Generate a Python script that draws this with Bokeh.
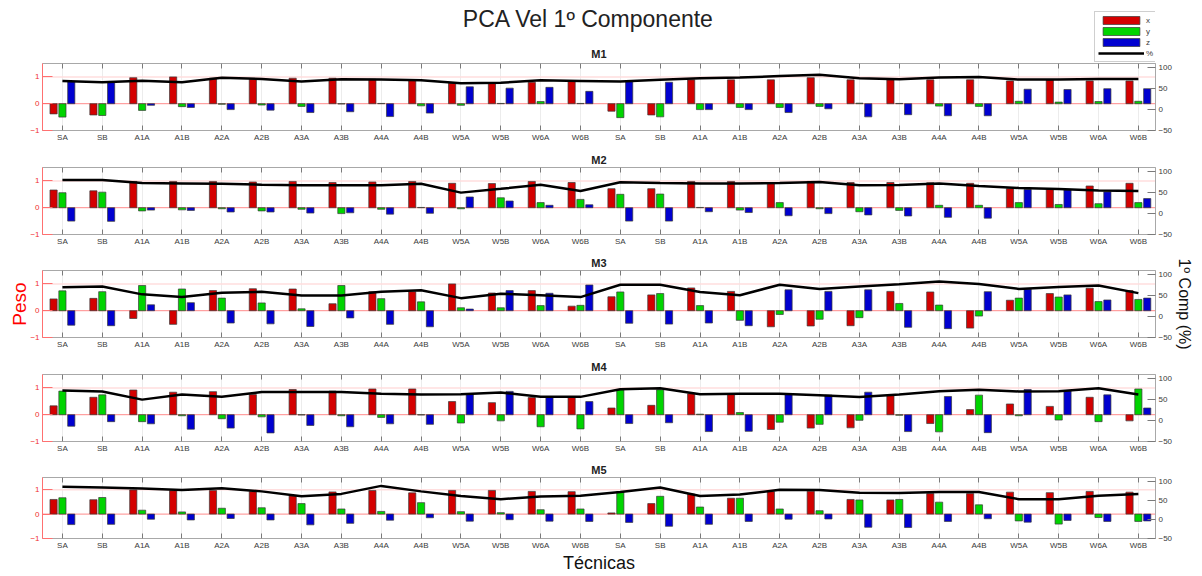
from bokeh.plotting import figure
from bokeh.models import (Range1d, LinearAxis, FixedTicker, Span, Label, Legend,
                          LegendItem, ColumnDataSource)
from bokeh.layouts import column
from bokeh.transform import dodge
from bokeh.embed import file_html
from bokeh.resources import INLINE

# ---------------- data ----------------
grupo = ["SA", "SB", "A1A", "A1B", "A2A", "A2B", "A3A", "A3B", "A4A", "A4B",
         "W5A", "W5B", "W6A", "W6B"]
tecnicas = grupo + grupo
paneles = ["M1", "M2", "M3", "M4", "M5"]
series = ["x", "y", "z", "%"]

m1_x = [-0.38, -0.42, 0.97, 1.0, 0.95, 0.91, 0.95, 0.95, 0.91, 0.89, 0.76, 0.76, 0.8, 0.85,
        -0.28, -0.42, 0.89, 0.89, 0.89, 0.97, 0.89, 0.89, 0.89, 0.89, 0.85, 0.88, 0.85, 0.85]
m1_y = [-0.5, -0.44, -0.25, -0.11, -0.02, -0.05, -0.1, -0.01, 0.01, -0.08, -0.06, 0.01, 0.08, 0.01,
        -0.52, -0.49, -0.22, -0.14, -0.14, -0.1, 0.02, 0.01, -0.09, -0.1, 0.09, 0.06, 0.08, 0.09]
m1_z = [0.82, 0.82, -0.06, -0.14, -0.22, -0.24, -0.33, -0.3, -0.48, -0.35, 0.63, 0.58, 0.61, 0.46,
        0.82, 0.8, -0.22, -0.22, -0.33, -0.19, -0.49, -0.41, -0.45, -0.45, 0.54, 0.53, 0.56, 0.56]
m1_pct = [68, 65, 69, 65, 76, 73, 67, 72.6, 72, 70, 63, 64, 70, 68.5,
          67, 71, 75, 76.5, 80, 83, 75, 72.6, 76.5, 78, 71.6, 71.6, 73, 73]

m2_x = [0.66, 0.63, 0.98, 0.98, 0.98, 0.96, 0.98, 0.94, 0.96, 0.98, 0.91, 0.9, 0.98, 0.94,
        0.71, 0.71, 0.98, 0.98, 0.93, 0.98, 0.94, 0.94, 0.93, 0.91, 0.71, 0.69, 0.81, 0.91]
m2_y = [0.56, 0.58, -0.12, -0.08, -0.04, -0.12, -0.06, -0.22, -0.06, 0.01, -0.04, 0.37, 0.19, 0.31,
        0.5, 0.51, 0.01, -0.09, 0.19, -0.04, -0.15, -0.1, 0.09, 0.09, 0.19, 0.12, 0.15, 0.19]
m2_z = [-0.5, -0.51, -0.09, -0.1, -0.16, -0.16, -0.2, -0.19, -0.24, -0.21, 0.4, 0.25, 0.09, 0.11,
        -0.5, -0.5, -0.15, -0.18, -0.3, -0.22, -0.27, -0.31, -0.36, -0.39, 0.68, 0.66, 0.59, 0.34]
m2_pct = [80, 80, 73, 72, 71, 69, 67.5, 67.5, 67.5, 71, 50, 59, 69, 54,
          75, 73, 71.5, 71.5, 73, 75.6, 67.5, 68, 71.5, 66, 61, 58.5, 55, 53.6]

m3_x = [0.44, 0.46, -0.29, -0.51, 0.75, 0.82, 0.81, 0.26, 0.71, 0.71, 1.0, 0.66, 0.75, 0.17,
        0.52, 0.59, 0.85, 0.72, -0.6, -0.57, -0.56, 0.72, 0.7, -0.65, 0.39, 0.64, 0.84, 0.75]
m3_y = [0.74, 0.71, 0.94, 0.81, 0.47, 0.29, 0.07, 0.94, 0.45, 0.33, 0.11, 0.11, 0.19, 0.2,
        0.7, 0.64, 0.19, -0.36, -0.14, -0.32, -0.26, 0.27, 0.21, -0.2, 0.47, 0.51, 0.34, 0.42]
m3_z = [-0.54, -0.56, 0.22, 0.3, -0.46, -0.49, -0.59, -0.27, -0.51, -0.6, 0.06, 0.75, 0.65, 0.96,
        -0.47, -0.5, -0.46, -0.56, 0.78, 0.72, 0.78, -0.62, -0.67, 0.71, 0.8, 0.59, 0.4, 0.47]
m3_pct = [70, 72, 53, 46.5, 57, 59, 50.5, 50.5, 59, 63, 44, 54.5, 51, 46.5,
          76, 76, 58.5, 51, 76, 66, 72, 77, 84, 78, 66, 70.5, 74, 56]

m4_x = [0.33, 0.65, 0.92, 0.84, 0.86, 0.75, 0.94, 0.88, 0.96, 0.96, 0.49, 0.45, 0.64, 0.65,
        0.25, 0.35, 0.78, 0.77, -0.55, -0.5, -0.49, 0.72, -0.33, 0.19, 0.4, 0.31, 0.65, -0.23]
m4_y = [0.88, 0.74, -0.26, -0.04, -0.15, -0.08, -0.01, -0.04, -0.1, -0.01, -0.31, -0.23, -0.45, -0.53,
        0.93, 0.93, 0.02, 0.08, -0.28, -0.36, -0.21, -0.02, -0.64, 0.73, -0.04, -0.2, -0.26, 0.96]
m4_z = [-0.43, -0.26, -0.34, -0.54, -0.5, -0.68, -0.4, -0.45, -0.34, -0.36, 0.77, 0.87, 0.65, 0.49,
        -0.33, -0.3, -0.63, -0.62, 0.78, 0.73, 0.84, -0.63, 0.68, -0.67, 0.94, 0.89, 0.74, 0.25]
m4_pct = [72, 69.5, 50, 62, 56.6, 68, 68, 68, 64, 62, 63, 67, 56.6, 56.6,
          75, 77, 63, 64, 64, 60.6, 56, 62, 70, 73.6, 69.5, 70, 77, 62]

m5_x = [0.6, 0.59, 0.99, 0.96, 0.97, 0.92, 0.74, 0.91, 0.97, 0.87, 0.97, 0.97, 0.93, 0.92,
        0.05, 0.43, 0.82, 0.65, 0.92, 0.94, 0.6, 0.58, 0.84, 0.84, 0.9, 0.88, 0.93, 0.9]
m5_y = [0.67, 0.68, 0.16, 0.09, 0.24, 0.26, 0.43, 0.21, 0.11, 0.47, 0.1, 0.06, 0.18, 0.21,
        0.92, 0.73, 0.29, 0.65, 0.21, 0.14, 0.58, 0.6, 0.49, 0.38, -0.28, -0.41, -0.14, -0.3]
m5_z = [-0.43, -0.42, -0.21, -0.24, -0.18, -0.24, -0.44, -0.38, -0.25, -0.15, -0.29, -0.23, -0.29, -0.3,
        -0.34, -0.5, -0.42, -0.3, -0.21, -0.2, -0.54, -0.55, -0.3, -0.19, -0.33, -0.26, -0.3, -0.28]
m5_pct = [85.6, 84, 81, 77, 82, 73.6, 61, 67, 88, 73.6, 61.6, 53, 60, 62.4,
          72, 84, 61.6, 65.6, 77.6, 77, 70, 69.6, 72, 72, 53, 53, 62.4, 66.4]

datos = {
    "M1": (m1_x, m1_y, m1_z, m1_pct),
    "M2": (m2_x, m2_y, m2_z, m2_pct),
    "M3": (m3_x, m3_y, m3_z, m3_pct),
    "M4": (m4_x, m4_y, m4_z, m4_pct),
    "M5": (m5_x, m5_y, m5_z, m5_pct),
}

titulo = "PCA Vel 1º Componente"
eje_izq = "Peso"
eje_der = "1º Comp (%)"
eje_x = "Técnicas"

# ---------------- style ----------------
FONT = "Liberation Sans"
FIG_W = 1200
HEADER_H = 63
FRAME_H = 67
BORDER_L, BORDER_R = 42, 45
TOPS = [0, 17, 17, 17, 17]
BOTTOMS = [20, 19, 20, 19, 31]
C_X, C_Y, C_Z = "#d40000", "#00d400", "#0000d0"
EDGE = "#3a3a3a"
TICK_GRAY = "#7a7a7a"
LABEL_GRAY = "#3a3a3a"
RED_AXIS = "#ff7070"
BAR_W = 0.18
OFFS = [-0.222, 0.0, 0.222]

n = len(tecnicas)
frame_w = FIG_W - BORDER_L - BORDER_R

# ---------------- header: title, legend, M1 label ----------------
hdr = figure(width=FIG_W, height=HEADER_H, output_backend="svg", toolbar_location=None,
             tools="", x_range=Range1d(0, 1), y_range=Range1d(0, 1),
             x_axis_location=None, y_axis_location=None,
             min_border_left=BORDER_L, min_border_right=BORDER_R,
             min_border_top=0, min_border_bottom=0)
hdr.outline_line_color = None
hdr.grid.visible = False
hdr.background_fill_color = "white"
hdr.border_fill_color = "white"
# legend proxies: same series as panel M1, kept hidden (only their legend swatches show)
src_leg = ColumnDataSource(dict(idx=list(range(n)), x=m1_x, y=m1_y, z=m1_z, pct=m1_pct))
lx = hdr.vbar(x="idx", top="x", width=BAR_W, source=src_leg, fill_color=C_X,
              line_color=EDGE, line_width=0.7, visible=False)
ly = hdr.vbar(x="idx", top="y", width=BAR_W, source=src_leg, fill_color=C_Y,
              line_color=EDGE, line_width=0.7, visible=False)
lz = hdr.vbar(x="idx", top="z", width=BAR_W, source=src_leg, fill_color=C_Z,
              line_color=EDGE, line_width=0.7, visible=False)
ll = hdr.line(x="idx", y="pct", source=src_leg, line_color="black", line_width=2.5,
              visible=False)
leg = Legend(items=[LegendItem(label=series[0], renderers=[lx]),
                    LegendItem(label=series[1], renderers=[ly]),
                    LegendItem(label=series[2], renderers=[lz]),
                    LegendItem(label=series[3], renderers=[ll])],
             location=(frame_w - 61, 1), orientation="vertical", click_policy="none",
             padding=3, spacing=1, margin=0, glyph_width=46, glyph_height=10,
             label_height=10, label_standoff=2, label_text_font=FONT,
             label_text_font_size="8px", label_text_color=LABEL_GRAY,
             border_line_color="#a0a0a0", background_fill_color="white",
             background_fill_alpha=1.0, inactive_fill_alpha=0.0)
hdr.add_layout(leg, "center")
hdr.add_layout(Label(x=546, y=HEADER_H - 18, x_units="screen", y_units="screen",
                     text=titulo, text_align="center", text_baseline="middle",
                     text_font=FONT, text_font_size="23px", text_color="#222222"))
hdr.add_layout(Label(x=frame_w / 2, y=4, x_units="screen", y_units="screen",
                     text=paneles[0], text_align="center", text_baseline="bottom",
                     text_font=FONT, text_font_size="11px", text_font_style="bold",
                     text_color="#222222"))

figs = [hdr]
for k, name in enumerate(paneles):
    xs, ys, zs, pct = datos[name]
    src = ColumnDataSource(dict(idx=list(range(n)), x=xs, y=ys, z=zs, pct=pct))
    p = figure(width=FIG_W, height=TOPS[k] + FRAME_H + BOTTOMS[k],
               output_backend="svg", toolbar_location=None, tools="",
               x_range=Range1d(-0.5, n - 0.57), y_range=Range1d(-1, 1.5),
               min_border_left=BORDER_L, min_border_right=BORDER_R,
               min_border_top=TOPS[k], min_border_bottom=BOTTOMS[k])
    p.extra_y_ranges = {"pct": Range1d(-50, 110)}
    p.background_fill_color = "white"
    p.border_fill_color = "white"
    p.outline_line_color = "#a8a8a8"
    p.outline_line_width = 1

    if k > 0:
        p.title.text = name
        p.title.align = "center"
        p.title.text_font = FONT
        p.title.text_font_size = "11px"
        p.title.text_font_style = "bold"
        p.title.text_color = "#222222"
        p.title.standoff = 3

    p.ygrid.grid_line_color = None
    p.xgrid.grid_line_color = "#ececec"

    # reference lines
    p.add_layout(Span(location=1, dimension="width", line_color="#ffdede",
                      line_width=1.5, level="underlay"))
    p.add_layout(Span(location=0, dimension="width", line_color="#ff8a8a",
                      line_width=1, level="underlay"))

    # bars and line
    p.vbar(x=dodge("idx", OFFS[0]), top="x", bottom=0, width=BAR_W, source=src,
           fill_color=C_X, line_color=EDGE, line_width=0.7)
    p.vbar(x=dodge("idx", OFFS[1]), top="y", bottom=0, width=BAR_W, source=src,
           fill_color=C_Y, line_color=EDGE, line_width=0.7)
    p.vbar(x=dodge("idx", OFFS[2]), top="z", bottom=0, width=BAR_W, source=src,
           fill_color=C_Z, line_color=EDGE, line_width=0.7)
    p.line("idx", "pct", source=src, y_range_name="pct",
           line_color="black", line_width=2.5)

    # bottom axis
    xa = p.xaxis[0]
    xa.ticker = FixedTicker(ticks=list(range(n)))
    xa.major_label_overrides = {i: t for i, t in enumerate(tecnicas)}
    xa.major_tick_in = 5
    xa.major_tick_out = 0
    xa.major_tick_line_color = TICK_GRAY
    xa.axis_line_color = None
    xa.major_label_standoff = 2
    xa.major_label_text_font = FONT
    xa.major_label_text_font_size = "8px"
    xa.major_label_text_color = LABEL_GRAY
    if k == 4:
        xa.axis_label = eje_x
        xa.axis_label_text_font = FONT
        xa.axis_label_text_font_size = "18px"
        xa.axis_label_text_font_style = "normal"
        xa.axis_label_text_color = "#111111"
        xa.axis_label_standoff = 0

    # top ticks
    ta = LinearAxis(ticker=FixedTicker(ticks=list(range(n))),
                    major_label_overrides={i: "" for i in range(n)},
                    major_label_text_font_size="0px", major_label_standoff=0,
                    major_tick_in=5, major_tick_out=0,
                    major_tick_line_color=TICK_GRAY, axis_line_color=None)
    p.add_layout(ta, "above")

    # left axis (red)
    ya = p.yaxis[0]
    ya.ticker = FixedTicker(ticks=[-1, 0, 1])
    ya.axis_line_color = RED_AXIS
    ya.major_tick_line_color = RED_AXIS
    ya.major_tick_in = 10
    ya.major_tick_out = 0
    ya.major_label_standoff = 3
    ya.major_label_text_color = "#f03030"
    ya.major_label_text_font = FONT
    ya.major_label_text_font_size = "8px"
    if k == 2:
        ya.axis_label = eje_izq
        ya.axis_label_text_font = FONT
        ya.axis_label_text_font_size = "19px"
        ya.axis_label_text_font_style = "normal"
        ya.axis_label_text_color = "#ff0000"
        ya.axis_label_standoff = -3

    # right axis (%)
    ra = LinearAxis(y_range_name="pct", ticker=FixedTicker(ticks=[-50, 0, 50, 100]),
                    major_tick_in=8, major_tick_out=0,
                    major_tick_line_color=TICK_GRAY, axis_line_color="#a8a8a8",
                    major_label_standoff=3, major_label_text_font=FONT,
                    major_label_text_font_size="8px", major_label_text_color=LABEL_GRAY)
    if k == 2:
        ra.axis_label = eje_der
        ra.axis_label_text_font = FONT
        ra.axis_label_text_font_size = "16px"
        ra.axis_label_text_font_style = "normal"
        ra.axis_label_text_color = "#111111"
        ra.axis_label_standoff = 1
    p.add_layout(ra, "right")
    figs.append(p)

layout = column(*figs, spacing=0)
open("out.html", "w").write(file_html(layout, INLINE, title="PCA Vel 1º Componente"))
